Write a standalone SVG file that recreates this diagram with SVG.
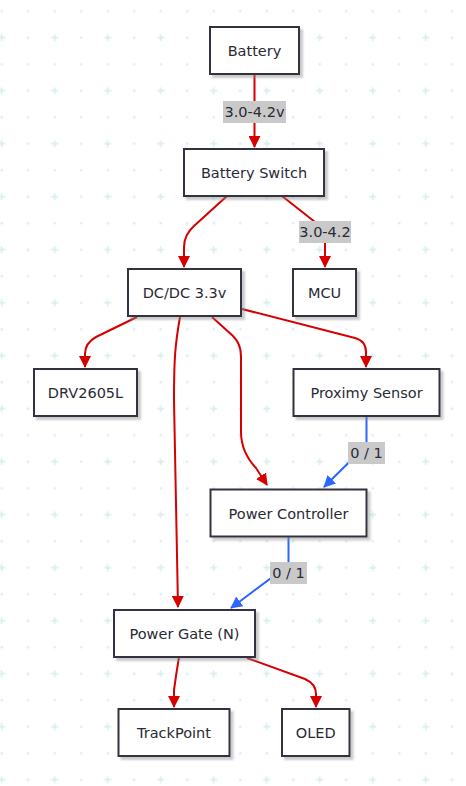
<svg xmlns="http://www.w3.org/2000/svg" width="466" height="786" viewBox="0 0 466 786">
<defs>
<style>
.node rect{fill:#ffffff;stroke:#33333f;stroke-width:2;filter:url(#sh)}
.node text{font-family:"DejaVu Sans",sans-serif;font-size:14.5px;fill:#2a2a36;text-anchor:middle;dominant-baseline:central}
.e{fill:none;stroke-width:2}
.red{stroke:#d60000;marker-end:url(#ar)}
.blue{stroke:#2a66ff;marker-end:url(#ab)}
.lbl rect{fill:#c9c9c9}
.lbl text{font-family:"DejaVu Sans",sans-serif;font-size:14.5px;fill:#2a2a36;text-anchor:middle;dominant-baseline:central}
.g1{fill:#d6edf1}
</style>
<filter id="sh" x="-10%" y="-10%" width="130%" height="140%">
<feDropShadow dx="3" dy="3" stdDeviation="0.8" flood-color="#8a8a8a" flood-opacity="0.45"/>
</filter>
<marker id="ar" viewBox="0 0 12 12" refX="11" refY="6" markerWidth="12" markerHeight="12" markerUnits="userSpaceOnUse" orient="auto">
<path d="M0,0 L12,6 L0,12 z" fill="#d60000"/>
</marker>
<marker id="ab" viewBox="0 0 12 12" refX="11" refY="6" markerWidth="12" markerHeight="12" markerUnits="userSpaceOnUse" orient="auto">
<path d="M0,0 L12,6 L0,12 z" fill="#2a66ff"/>
</marker>
<pattern id="bg" x="-11.5" y="24.5" width="53" height="53" patternUnits="userSpaceOnUse">
<rect class="g1" x="9.75" y="12.45" width="7" height="1.6"/>
<rect class="g1" x="12.45" y="9.75" width="1.6" height="7"/>
<circle class="g1" cx="39.75" cy="13.25" r="1.3"/>
<circle class="g1" cx="13.25" cy="39.75" r="1.3"/>
<circle class="g1" cx="39.75" cy="39.75" r="1.3"/>
</pattern>
</defs>
<rect width="466" height="786" fill="#ffffff"/>
<rect width="466" height="786" fill="url(#bg)"/>

<g id="connectors">
<path class="e red" d="M254.5,74 L254.5,147"/>
<path class="e red" d="M227,196 L194,226 Q184,235 184,247 L184,267"/>
<path class="e red" d="M282,196 L315,222 Q325,230 325,242 L325,267"/>
<path class="e red" d="M137,317 L96,337 Q85,343 85,354 L85,367"/>
<path class="e red" d="M180,317 C175,345 174,360 174,400 L178,607"/>
<path class="e red" d="M212,317 L233,336 Q241,344 241,356 L241,432 Q241,452 256,468 L267,485"/>
<path class="e red" d="M242,309 L355,338 Q366,341 366,352 L366,367"/>
<path class="e blue" d="M366.5,416 L366.5,445 L324,487"/>
<path class="e blue" d="M288.5,537 L288.5,565 L231,608"/>
<path class="e red" d="M179,657 Q176,675 174,690 L174,707"/>
<path class="e red" d="M247,658 L305,679 Q316,684 316,694 L316,707"/>
</g>

<g id="edge-labels">
<g class="lbl" id="lbl-batt"><rect x="223" y="101" width="63" height="22"/><text x="254.5" y="112">3.0-4.2v</text></g>
<g class="lbl" id="lbl-mcu"><rect x="299" y="221" width="52" height="22"/><text x="325" y="232">3.0-4.2</text></g>
<g class="lbl" id="lbl-prox"><rect x="348" y="442" width="37" height="22"/><text x="366.5" y="453">0 / 1</text></g>
<g class="lbl" id="lbl-pc"><rect x="270" y="562" width="37" height="22"/><text x="288.5" y="573">0 / 1</text></g>
</g>

<g id="battery" class="node"><rect x="210" y="27" width="89" height="47"/><text x="254.5" y="51">Battery</text></g>
<g id="battery-switch" class="node"><rect x="184" y="149" width="140" height="47"/><text x="254" y="173">Battery Switch</text></g>
<g id="dcdc" class="node"><rect x="128" y="269" width="113" height="47"/><text x="184.5" y="293">DC/DC 3.3v</text></g>
<g id="mcu" class="node"><rect x="293" y="269" width="63" height="47"/><text x="324.5" y="293">MCU</text></g>
<g id="drv" class="node"><rect x="34" y="369" width="103" height="47"/><text x="85.5" y="393">DRV2605L</text></g>
<g id="prox" class="node"><rect x="293.5" y="369" width="146" height="47"/><text x="366.5" y="393">Proximy Sensor</text></g>
<g id="power-controller" class="node"><rect x="210.5" y="489.5" width="156" height="47"/><text x="288.5" y="513.5">Power Controller</text></g>
<g id="power-gate" class="node"><rect x="114" y="610" width="141" height="47"/><text x="184.5" y="634">Power Gate (N)</text></g>
<g id="trackpoint" class="node"><rect x="118.5" y="709" width="111" height="47"/><text x="174" y="733">TrackPoint</text></g>
<g id="oled" class="node"><rect x="282" y="709" width="67.5" height="47"/><text x="315.75" y="733">OLED</text></g>
</svg>
